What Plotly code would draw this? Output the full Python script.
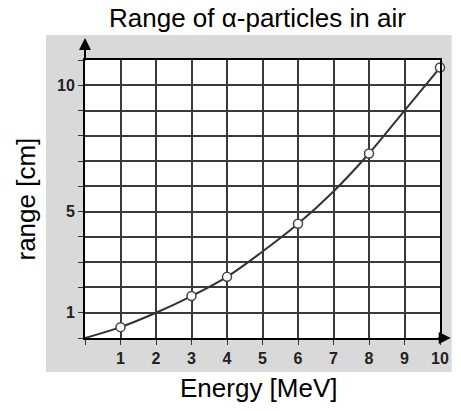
import plotly.graph_objects as go

# Data
curve_energy = [0, 1, 2, 3, 4, 5, 6, 7, 8, 9, 10]
curve_range = [0, 0.43, 1.0, 1.66, 2.42, 3.42, 4.52, 5.8, 7.3, 9.0, 10.7]
point_energy = [1, 3, 4, 6, 8, 10]
point_range = [0.43, 1.66, 2.42, 4.52, 7.3, 10.7]
x_tickvals = list(range(0, 11))
x_ticktext = [""] + [str(i) for i in range(1, 11)]
y_tickvals = list(range(0, 12))
y_ticktext = ["" if v not in (1, 5, 10) else str(v) for v in y_tickvals]

W, H = 461, 411
L, R, T, B = 85, 12, 60, 73
pw = W - L - R
ph = H - T - B

def px(xp):
    return (xp - L) / pw

def py(yp):
    return (H - B - yp) / ph

fig = go.Figure()
fig.add_trace(go.Scatter(x=curve_energy, y=curve_range, mode="lines",
                         line=dict(color="#333333", width=2, shape="spline"),
                         hoverinfo="skip", cliponaxis=False))
fig.add_trace(go.Scatter(x=point_energy, y=point_range, mode="markers",
                         marker=dict(size=9, color="white",
                                     line=dict(color="#444444", width=1.5)),
                         cliponaxis=False))

shapes = [
    dict(type="rect", xref="paper", yref="paper", x0=px(45), x1=px(461),
         y0=py(372), y1=py(35), fillcolor="#d9d9d9", line=dict(width=0), layer="below"),
    dict(type="rect", xref="x", yref="y", x0=0, x1=10, y0=0, y1=11,
         fillcolor="white", line=dict(width=0), layer="below"),
]

font_main = dict(family="Liberation Sans, Arial, sans-serif", size=26, color="black")
annotations = [
    dict(text="Range of α-particles in air", xref="paper", yref="paper",
         x=px(262), y=py(18), showarrow=False, font=font_main,
         xanchor="center", yanchor="middle"),
    dict(text="Energy [MeV]", xref="paper", yref="paper",
         x=px(263), y=py(388), showarrow=False, font=font_main,
         xanchor="center", yanchor="middle"),
    dict(text="range [cm]", xref="paper", yref="paper", textangle=-90,
         x=px(24), y=py(199), showarrow=False, font=font_main,
         xanchor="center", yanchor="middle"),
    # axis arrows
    dict(text="", xref="x", yref="paper", x=0, y=py(38), ax=0, ay=24,
         showarrow=True, arrowhead=2, arrowsize=1.2, arrowwidth=2, arrowcolor="black"),
    dict(text="", xref="paper", yref="y", x=px(460), y=0, ax=-14, ay=0,
         showarrow=True, arrowhead=2, arrowsize=1.2, arrowwidth=2, arrowcolor="black"),
]

tickfont = dict(family="Liberation Sans, Arial, sans-serif", size=16, color="#222222", weight="bold")

fig.update_layout(
    width=W, height=H,
    margin=dict(l=L, r=R, t=T, b=B, pad=0),
    paper_bgcolor="white", plot_bgcolor="rgba(0,0,0,0)",
    showlegend=False,
    shapes=shapes, annotations=annotations,
    xaxis=dict(range=[0, 10], tickvals=x_tickvals, ticktext=x_ticktext,
               showgrid=True, gridcolor="#3a3a3a", gridwidth=1.6,
               zeroline=False, showline=True, linecolor="black", linewidth=2,
               mirror=True, ticks="outside", ticklen=5, tickcolor="#333333",
               tickwidth=1, tickfont=tickfont, fixedrange=True),
    yaxis=dict(range=[0, 11], tickvals=y_tickvals, ticktext=y_ticktext,
               showgrid=True, gridcolor="#3a3a3a", gridwidth=1.6,
               zeroline=False, showline=True, linecolor="black", linewidth=2,
               mirror=True, ticks="outside", ticklen=5, tickcolor="#333333",
               tickwidth=1, tickfont=tickfont, fixedrange=True),
)

fig.write_html("out.html")
